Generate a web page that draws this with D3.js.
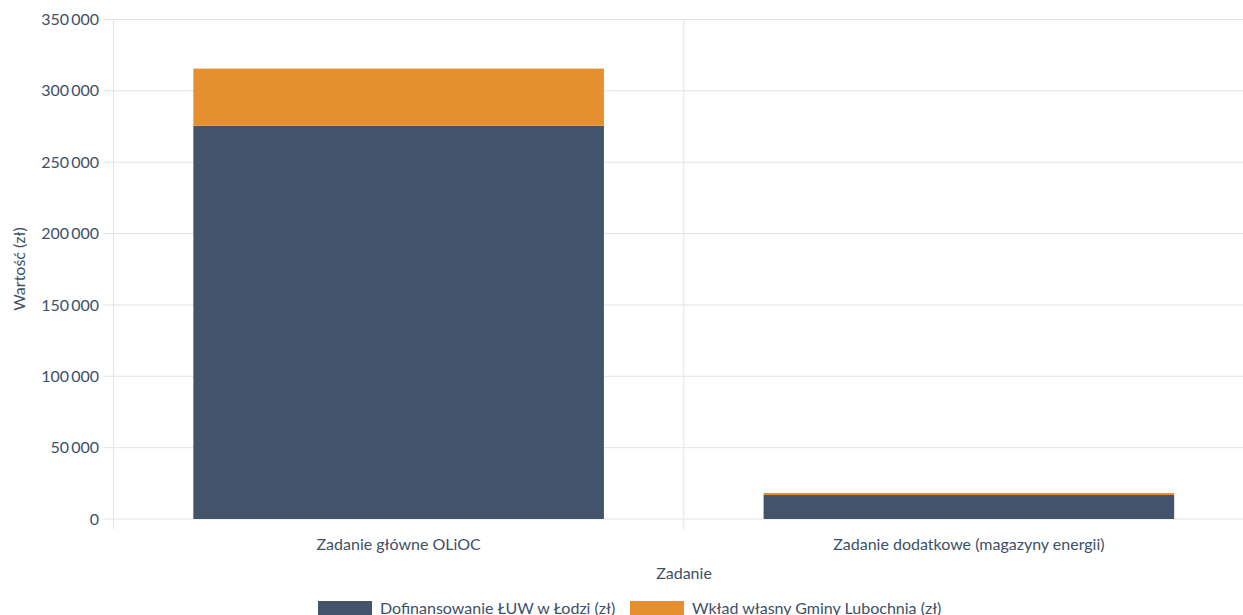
<!DOCTYPE html>
<html><head><meta charset="utf-8">
<script src="https://cdn.jsdelivr.net/npm/d3@7"></script>
<style>
html,body{margin:0;padding:0;background:#fff;overflow:hidden}
text{font-family:Lato,"Noto Sans",sans-serif}
</style></head>
<body><svg id="c" width="1243" height="615"></svg>
<script>
const categories = ["Zadanie główne OLiOC", "Zadanie dodatkowe (magazyny energii)"];
const seriesNames = ["Dofinansowanie ŁUW w Łodzi (zł)", "Wkład własny Gminy Lubochnia (zł)"];
const dofinansowanie = [275600, 16800];
const wkladWlasny = [40000, 1400];
const yTicks = [0, 50000, 100000, 150000, 200000, 250000, 300000, 350000];
const colors = ["#42536b", "#e68f2f"];

(function () {
const svg = d3.select("#c");
const pLeft = 113.5, pRight = 1254, pTop = 19.5, pBottom = 519;
const textColor = "#3d5166";
const fs = 16;

const x = d3.scaleBand().domain(categories).range([pLeft, pRight]).paddingInner(0).paddingOuter(0);
const y = d3.scaleLinear().domain([0, 350000]).range([pBottom, pTop]);
const fmt = v => d3.format(",")(v).replace(/,/g, "\u2009");

// horizontal grid
svg.append("g").selectAll("line").data(yTicks).join("line")
  .attr("x1", pLeft - 10).attr("x2", 1243)
  .attr("y1", d => y(d)).attr("y2", d => y(d))
  .attr("stroke", "#e3e3e3").attr("stroke-width", 1);

// vertical grid (category boundaries)
const bounds = [pLeft].concat(categories.map(c => x(c) + x.bandwidth()));
svg.append("g").selectAll("line").data(bounds).join("line")
  .attr("x1", d => d).attr("x2", d => d)
  .attr("y1", pTop).attr("y2", pBottom + 10)
  .attr("stroke", "#e3e3e3").attr("stroke-width", 1);

// y tick labels
svg.append("g").selectAll("text").data(yTicks).join("text")
  .attr("x", 99).attr("y", d => y(d)).attr("dy", "0.35em")
  .attr("text-anchor", "end").attr("font-size", fs).attr("fill", textColor)
  .text(fmt);

// stacked bars
const data = categories.map((c, i) => ({cat: c, s0: dofinansowanie[i], s1: wkladWlasny[i]}));
const stack = d3.stack().keys(["s0", "s1"])(data);
const bw = x.bandwidth() * 0.72;
svg.append("g").selectAll("g").data(stack).join("g")
  .attr("fill", (d, i) => colors[i])
  .selectAll("rect").data(d => d).join("rect")
  .attr("x", d => x(d.data.cat) + (x.bandwidth() - bw) / 2)
  .attr("width", bw)
  .attr("y", d => y(d[1]))
  .attr("height", d => y(d[0]) - y(d[1]));

// x labels
svg.append("g").selectAll("text").data(categories).join("text")
  .attr("x", d => x(d) + x.bandwidth() / 2).attr("y", 550)
  .attr("text-anchor", "middle").attr("font-size", fs).attr("fill", textColor)
  .text(d => d);

// axis titles
svg.append("text").attr("x", 684).attr("y", 579).attr("text-anchor", "middle")
  .attr("font-size", fs).attr("fill", textColor).text("Zadanie");
svg.append("text").attr("transform", "translate(25,269) rotate(-90)")
  .attr("text-anchor", "middle").attr("font-size", fs).attr("fill", textColor).text("Wartość (zł)");

// legend
const legX = [318, 630];
const lg = svg.append("g").selectAll("g").data(seriesNames).join("g")
  .attr("transform", (d, i) => `translate(${legX[i]},601)`);
lg.append("rect").attr("width", 54).attr("height", 15).attr("fill", (d, i) => colors[i]);
lg.append("text").attr("x", 62).attr("y", 7).attr("dy", "0.35em")
  .attr("font-size", fs).attr("fill", textColor).text(d => d);
})();
</script></body></html>
